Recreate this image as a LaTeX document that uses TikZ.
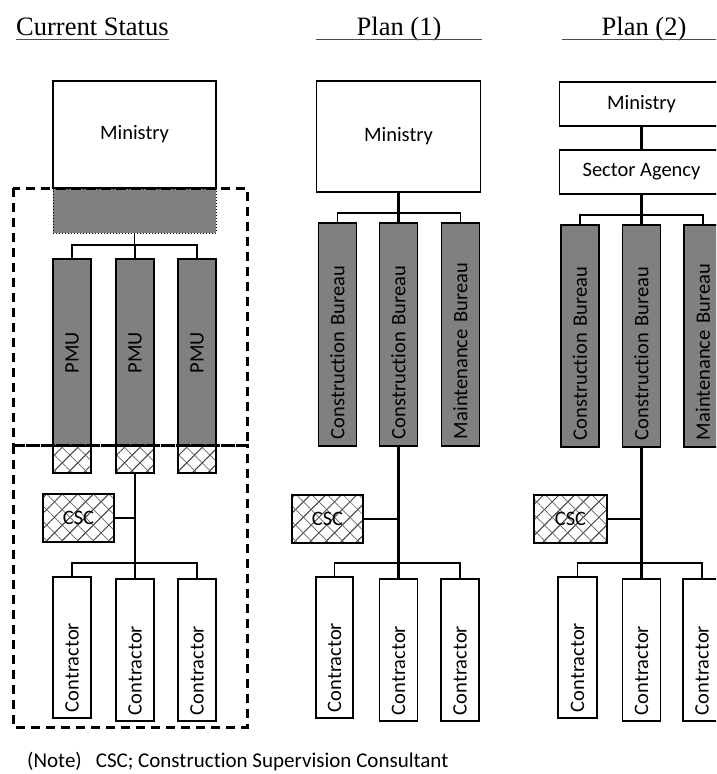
\documentclass[tikz,border=0pt]{standalone}
\usepackage{fontspec}
\setmainfont{Carlito}[Ligatures=NoCommon]
\newfontfamily\headfont{Liberation Serif}
\usetikzlibrary{patterns.meta}

\tikzset{
  every node/.style={font=\fontsize{20.5}{24}\selectfont},
  title/.style={font=\headfont\fontsize{26.5}{30}\selectfont, inner sep=0pt},
  uline/.style={draw=black!70, line width=1.4pt},
  box/.style={draw, line width=1.3pt, fill=white, inner sep=0pt},
  shaded/.style={box, fill=black!50},
  unitbox/.style={draw, dotted, line width=1pt, fill=black!50, inner sep=0pt},
  hatch/.style={box,
    postaction={pattern={Lines[angle=45,distance=11pt,line width=1pt]}, pattern color=black!75},
    postaction={pattern={Lines[angle=-45,distance=11pt,line width=0.7pt]}, pattern color=black!60},
    postaction={draw, line width=1.3pt}},
  vlabel/.style={rotate=90, inner xsep=6pt, align=left},
  thinline/.style={line width=1.2pt},
  midline/.style={line width=1.8pt},
  thickline/.style={line width=2.3pt},
  dashbox/.style={line width=3pt, dash pattern=on 9pt off 6pt}
}

\begin{document}
\begin{tikzpicture}[x=1pt,y=-1pt]
\useasboundingbox (0,0) rectangle (716,774);
\clip (0,0) rectangle (716,774);

% ---------- headings ----------
\node[title, anchor=base west] (t1) at (16,35) {Current Status};
\draw[uline] ([yshift=-4.5pt]t1.base west) -- ([yshift=-4.5pt]t1.base east);
\node[title, anchor=base] (t2) at (399,35) {Plan (1)};
\draw[uline] (316,39.5) -- (482,39.5);
\node[title, anchor=base] (t3) at (644,35) {Plan (2)};
\draw[uline] (562,39.5) -- (730,39.5);

% ---------- current status ----------
\node[box, minimum width=163, minimum height=107] (min1) at (134.5,134.5) {Ministry};
\node[unitbox, minimum width=163, minimum height=44] (unit1) at (134.5,211) {};

\node[shaded, rotate=90, minimum width=187, minimum height=38] (p1) at (72,352.5) {PMU};
\node[shaded, rotate=90, minimum width=187, minimum height=38] (p2) at (135,352.5) {PMU};
\node[shaded, rotate=90, minimum width=187, minimum height=38] (p3) at (197,352.5) {PMU};

\node[hatch, minimum width=38, minimum height=27] (q1) at (72,459.5) {};
\node[hatch, minimum width=38, minimum height=27] (q2) at (135,459.5) {};
\node[hatch, minimum width=38, minimum height=27] (q3) at (197,459.5) {};

\node[hatch, minimum width=71, minimum height=48] (csc1) at (78.5,518) {CSC};

\node[box, vlabel, minimum width=141, minimum height=38, text width=129] (k1) at (72,647.5) {Contractor};
\node[box, vlabel, minimum width=142, minimum height=38, text width=130] (k2) at (135,650) {Contractor};
\node[box, vlabel, minimum width=142, minimum height=38, text width=130] (k3) at (197,650) {Contractor};

\coordinate (j1) at (135,245);
\coordinate (j2) at (135,563);
\draw[thinline] (unit1.south) -- (unit1.south |- j1);
\draw[thinline] (p1.east) -- (p1.east |- j1) -- (p3.east |- j1) -- (p3.east);
\draw[thinline] (j1 -| p2.east) -- (p2.east);
\draw[thinline] (q2.south) -- (k2.east);
\draw[thinline] (csc1.east) -- (csc1.east -| q2.south);
\draw[thinline] (k1.east) -- (k1.east |- j2) -- (k3.east |- j2) -- (k3.east);

\draw[dashbox] (13,188) rectangle (247,445);
\draw[dashbox] (13,445) rectangle (247,727);

% ---------- plan (1) ----------
\node[box, minimum width=164, minimum height=111] (min2) at (398.5,136.5) {Ministry};

\node[shaded, vlabel, inner xsep=7pt, minimum width=223, minimum height=38, text width=209] (b1) at (337.5,334.5) {Construction Bureau};
\node[shaded, vlabel, inner xsep=7pt, minimum width=223, minimum height=38, text width=209] (b2) at (398.5,334.5) {Construction Bureau};
\node[shaded, vlabel, inner xsep=7pt, minimum width=223, minimum height=38, text width=209] (b3) at (460.5,334.5) {Maintenance Bureau};

\node[hatch, minimum width=71, minimum height=48] (csc2) at (327.5,519) {CSC};

\node[box, vlabel, minimum width=141, minimum height=37, text width=129] (m1) at (334.5,647.5) {Contractor};
\node[box, vlabel, minimum width=142, minimum height=38, text width=130] (m2) at (398.5,650) {Contractor};
\node[box, vlabel, minimum width=142, minimum height=38, text width=130] (m3) at (460,650) {Contractor};

\coordinate (j3) at (398.5,213);
\coordinate (j4) at (398.5,563);
\draw[thickline] (min2.south) -- (j3);
\draw[midline] (b1.east) -- (b1.east |- j3) -- (b3.east |- j3) -- (b3.east);
\draw[thickline] (j3) -- (b2.east);
\draw[thickline] (b2.west) -- (m2.east);
\draw[thinline] (csc2.east) -- (csc2.east -| b2.west);
\draw[thinline] (m1.east) -- (m1.east |- j4) -- (m3.east |- j4) -- (m3.east);

% ---------- plan (2) ----------
\node[box, minimum width=164, minimum height=44] (min3) at (641.5,104) {Ministry};
\node[box, minimum width=164, minimum height=44] (sa3) at (641.5,172) {Sector Agency};

\node[shaded, vlabel, inner xsep=7pt, minimum width=222, minimum height=38, text width=208] (d1) at (580,336) {Construction Bureau};
\node[shaded, vlabel, inner xsep=7pt, minimum width=222, minimum height=38, text width=208] (d2) at (641.5,336) {Construction Bureau};
\node[shaded, vlabel, inner xsep=7pt, minimum width=222, minimum height=38, text width=208] (d3) at (703,336) {Maintenance Bureau};

\node[hatch, minimum width=73, minimum height=48] (csc3) at (570.5,519) {CSC};

\node[box, vlabel, minimum width=141, minimum height=39, text width=129] (n1) at (577.5,647.5) {Contractor};
\node[box, vlabel, minimum width=142, minimum height=38, text width=130] (n2) at (641.5,650) {Contractor};
\node[box, vlabel, minimum width=142, minimum height=38, text width=130] (n3) at (702,650) {Contractor};

\coordinate (j5) at (641.5,215);
\coordinate (j6) at (641.5,563);
\draw[thickline] (min3.south) -- (sa3.north);
\draw[thickline] (sa3.south) -- (j5);
\draw[midline] (d1.east) -- (d1.east |- j5) -- (d3.east |- j5) -- (d3.east);
\draw[thickline] (j5) -- (d2.east);
\draw[thickline] (d2.west) -- (n2.east);
\draw[midline] (csc3.east) -- (csc3.east -| d2.west);
\draw[thinline] (n1.east) -- (n1.east |- j6) -- (n3.east |- j6) -- (n3.east);

% ---------- note ----------
\node[anchor=base west, inner sep=0pt, font=\fontsize{21}{24}\selectfont] (note) at (27,767) {(Note)\hspace{14pt}CSC; Construction Supervision Consultant};
\end{tikzpicture}
\end{document}
